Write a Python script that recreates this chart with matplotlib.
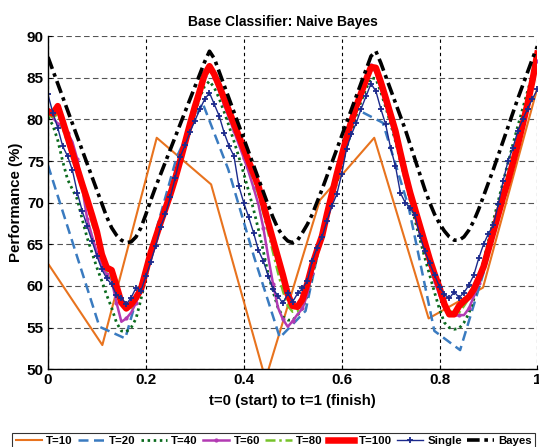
import numpy as np
from matplotlib import pyplot as plt

plt.rcParams["font.family"] = ["Liberation Sans", "DejaVu Sans"]
plt.rcParams["font.weight"] = "bold"

# time grid for the densely sampled runs
t = np.linspace(0, 1, 101)

# T=10 and T=20 are sampled more coarsely
t10 = np.linspace(0, 1, 10)
y10 = [62.7, 52.9, 77.8, 72.2, 48.8, 70.3, 77.8, 56.1, 59.8, 83.8]

t20 = np.linspace(0, 1, 20)
y20 = [74.5, 64.8, 55.1, 53.7, 64.5, 75.5, 82.0, 74.0, 63.5, 53.8,
       57.0, 71.5, 81.2, 79.6, 69.5, 54.6, 52.3, 62.5, 74.5, 86.3]

y40 = [80.3, 79.3, 77.5, 75.0, 72.8, 71.6, 70.4, 68.0, 65.8, 64.0,
       62.2, 60.6, 58.9, 57.4, 55.6, 54.6, 54.5, 55.0, 56.1, 58.4,
       61.0, 63.4, 65.6, 67.6, 69.6, 71.6, 73.5, 75.4, 77.2, 78.9,
       80.7, 82.6, 84.0, 84.6, 83.8, 82.5, 80.9, 79.2, 77.4, 75.5,
       73.5, 71.4, 69.2, 66.8, 64.2, 61.4, 59.3, 57.4, 56.3, 55.9,
       55.9, 56.5, 57.3, 58.9, 61.2, 63.6, 65.8, 68.0, 70.2, 72.4,
       74.5, 76.6, 78.6, 80.5, 82.2, 83.7, 85.0, 84.9, 83.3, 81.5,
       79.5, 77.4, 75.1, 72.7, 70.3, 67.9, 65.6, 63.4, 61.3, 59.2,
       57.2, 55.6, 55.0, 54.8, 54.9, 55.6, 56.7, 58.4, 60.6, 63.0,
       65.4, 67.8, 70.2, 72.5, 74.8, 77.0, 79.2, 81.3, 83.4, 85.4,
       87.3]

y60 = [81.0, 80.2, 79.5, 79.1, 78.4, 77.3, 75.2, 71.8, 68.1, 66.0,
       64.0, 62.4, 61.4, 60.7, 58.0, 55.7, 56.1, 56.8, 58.0, 59.6,
       62.0, 64.0, 65.8, 67.6, 69.4, 71.3, 73.3, 75.3, 77.4, 79.5,
       81.5, 83.4, 85.2, 86.3, 85.0, 83.4, 81.8, 80.2, 78.6, 77.0,
       75.4, 73.7, 71.8, 69.8, 67.0, 63.5, 60.2, 57.4, 56.0, 55.1,
       55.8, 56.6, 57.3, 59.0, 61.6, 64.2, 66.2, 68.3, 70.6, 73.0,
       75.4, 77.6, 79.6, 81.4, 83.0, 84.7, 86.5, 85.6, 83.8, 81.8,
       79.8, 77.6, 75.3, 72.9, 70.6, 68.6, 66.6, 64.5, 62.5, 60.5,
       58.9, 57.5, 56.7, 56.4, 56.5, 56.5, 57.3, 58.7, 60.3, 62.3,
       64.5, 66.7, 68.9, 71.0, 73.2, 75.4, 77.6, 79.8, 82.1, 84.5,
       87.0]

y80 = [80.5, 80.3, 80.6, 79.0, 77.2, 75.4, 73.5, 71.6, 69.6, 67.6,
       65.6, 63.5, 61.9, 61.0, 59.4, 57.9, 57.3, 57.4, 58.4, 59.8,
       62.0, 64.1, 66.0, 67.8, 69.6, 71.4, 73.3, 75.3, 77.4, 79.4,
       81.4, 83.2, 85.0, 85.9, 85.0, 83.6, 82.1, 80.6, 79.1, 77.6,
       76.0, 74.4, 72.8, 71.0, 68.8, 66.4, 64.0, 61.6, 59.4, 57.6,
       56.9, 57.0, 58.0, 59.8, 62.0, 64.0, 65.8, 68.2, 70.6, 73.0,
       75.3, 77.5, 79.5, 81.3, 83.0, 84.6, 86.0, 85.8, 84.0, 82.1,
       80.1, 78.0, 75.6, 73.2, 70.9, 68.8, 66.8, 64.8, 62.8, 60.9,
       59.2, 57.6, 57.0, 56.8, 56.8, 57.6, 58.5, 59.6, 61.0, 62.6,
       64.6, 66.7, 68.8, 70.9, 73.0, 75.2, 77.4, 79.7, 82.1, 84.6,
       87.4]

y100 = [81.0, 80.7, 81.6, 79.8, 77.9, 76.0, 74.1, 72.2, 70.4, 68.5,
        66.5, 63.8, 62.2, 61.9, 60.0, 58.0, 57.3, 57.8, 58.6, 59.6,
        61.8, 64.0, 65.8, 67.6, 69.3, 71.0, 72.9, 75.0, 77.2, 79.4,
        81.5, 83.4, 85.4, 86.4, 85.4, 84.0, 82.5, 81.0, 79.5, 78.0,
        76.5, 75.0, 73.5, 72.0, 69.8, 67.6, 65.5, 63.4, 61.3, 59.0,
        57.6, 57.5, 58.4, 60.3, 62.5, 64.3, 66.0, 68.6, 71.0, 73.4,
        75.6, 77.8, 79.8, 81.6, 83.2, 84.8, 86.3, 86.2, 84.5, 82.6,
        80.6, 78.6, 76.0, 73.5, 71.2, 69.2, 67.2, 65.2, 63.2, 61.4,
        59.8, 57.8, 56.6, 56.6, 57.6, 58.2, 58.7, 59.6, 60.9, 62.3,
        64.4, 66.5, 68.6, 70.7, 72.6, 74.8, 77.0, 79.4, 81.9, 84.7,
        87.9]

ysingle = [83.0, 80.8, 79.0, 76.8, 75.6, 73.9, 71.2, 69.0, 67.2, 65.4,
           63.6, 62.0, 60.9, 60.2, 58.9, 58.6, 57.8, 58.6, 59.8, 59.4,
           61.2, 62.9, 64.8, 67.1, 68.6, 70.7, 73.0, 75.5, 76.9, 78.5,
           79.8, 81.2, 82.4, 83.2, 81.8, 80.4, 78.4, 76.8, 75.6, 72.0,
           70.0, 68.3, 66.4, 64.3, 63.0, 61.2, 59.6, 58.8, 57.9, 59.1,
           58.1, 59.1, 59.7, 60.6, 63.0, 64.6, 65.9, 67.8, 69.6, 71.0,
           73.4, 76.5, 78.2, 79.6, 81.3, 82.8, 84.3, 83.4, 81.3, 79.4,
           76.6, 74.4, 71.2, 70.0, 69.4, 68.5, 66.0, 64.2, 62.7, 61.3,
           59.9, 59.0, 58.5, 59.3, 58.6, 59.2, 60.1, 61.3, 63.3, 65.0,
           66.3, 67.3, 69.8, 72.6, 75.0, 76.6, 78.6, 80.0, 81.3, 82.5,
           83.6]

ybayes = [87.5, 85.9, 84.3, 82.7, 81.1, 79.5, 77.9, 76.3, 74.7, 73.1,
          71.5, 69.9, 68.3, 67.0, 66.1, 65.5, 65.2, 65.3, 65.9, 67.0,
          68.6, 70.3, 71.9, 73.4, 74.9, 76.4, 77.9, 79.4, 80.9, 82.4,
          83.9, 85.4, 86.9, 88.2, 87.3, 85.7, 84.1, 82.5, 80.9, 79.3,
          77.7, 76.1, 74.5, 72.9, 71.3, 69.7, 68.2, 66.9, 66.0, 65.4,
          65.2, 65.5, 66.4, 67.4, 68.6, 70.1, 71.6, 73.2, 74.8, 76.4,
          78.0, 79.6, 81.2, 82.8, 84.4, 86.0, 87.6, 88.2, 86.8, 85.2,
          83.6, 82.0, 80.4, 78.8, 77.0, 75.2, 73.4, 71.6, 70.0, 68.6,
          67.5, 66.6, 65.9, 65.5, 65.5, 65.9, 66.7, 67.8, 69.2, 70.8,
          72.4, 74.0, 75.7, 77.4, 79.1, 80.8, 82.5, 84.1, 85.7, 87.3,
          88.8]

fig = plt.figure(figsize=(5.39, 4.47), dpi=100)
ax = fig.add_axes([0.089, 0.174, 0.908, 0.745])

ax.plot(t10, y10, color="#E8731E", lw=1.5, label="T=10")
ax.plot(t20, y20, color="#3A7BC0", lw=1.8, ls=(0, (4, 2.2)), label="T=20")
ax.plot(t, y40, color="#0B6B1E", lw=2.0, ls=(0, (0.9, 1.3)), label="T=40")
ax.plot(t, y60, color="#B33AB3", lw=1.8, marker=".", ms=4, markevery=2, label="T=60")
ax.plot(t, y80, color="#76C22A", lw=1.8, ls=(0, (4, 1.5, 1, 1.5)), label="T=80")
ax.plot(t, y100, color="#FF0000", lw=4.7, solid_joinstyle="round", label="T=100")
ax.plot(t, ysingle, color="#1C2A8C", lw=1.0, marker="+", ms=5, mew=1.3, label="Single")
ax.plot(t, ybayes, color="black", lw=2.6, ls=(0, (3.5, 1.3, 1, 1.3)), label="Bayes")

ax.set_xlim(0, 1)
ax.set_ylim(50, 90)
ax.set_xticks([0, 0.2, 0.4, 0.6, 0.8, 1.0])
ax.set_xticklabels(["0", "0.2", "0.4", "0.6", "0.8", "1"])
ax.set_yticks(np.arange(50, 91, 5))
ax.tick_params(labelsize=11, direction="in", length=3, width=0.8, pad=3)
for lab in ax.get_xticklabels() + ax.get_yticklabels():
    lab.set_fontweight("bold")

ax.xaxis.grid(True, color="black", ls=(0, (3, 3)), lw=0.8)
ax.yaxis.grid(True, color="#555555", ls=(0, (5, 3)), lw=0.8)
ax.set_axisbelow(True)
ax.spines["top"].set_visible(False)
ax.spines["right"].set_visible(False)
ax.spines["left"].set_linewidth(1.0)
ax.spines["bottom"].set_linewidth(1.0)

ax.set_title("Base Classifier: Naive Bayes", fontsize=10, fontweight="bold", x=0.481, pad=7)
ax.set_xlabel("t=0 (start) to t=1 (finish)", fontsize=10.8, fontweight="bold", labelpad=5)
ax.set_ylabel("Performance (%)", fontsize=10.8, fontweight="bold", labelpad=3)

leg = fig.legend(loc="upper left", bbox_to_anchor=(0.012, 0.045), ncol=8,
                 fontsize=8.2, frameon=True, fancybox=False, edgecolor="black",
                 handlelength=2.3, handletextpad=0.4, columnspacing=0.45,
                 borderpad=0.3, numpoints=1)
leg.get_frame().set_linewidth(0.8)
for txt in leg.get_texts():
    txt.set_fontweight("bold")

fig.savefig("out.png", dpi=100)
